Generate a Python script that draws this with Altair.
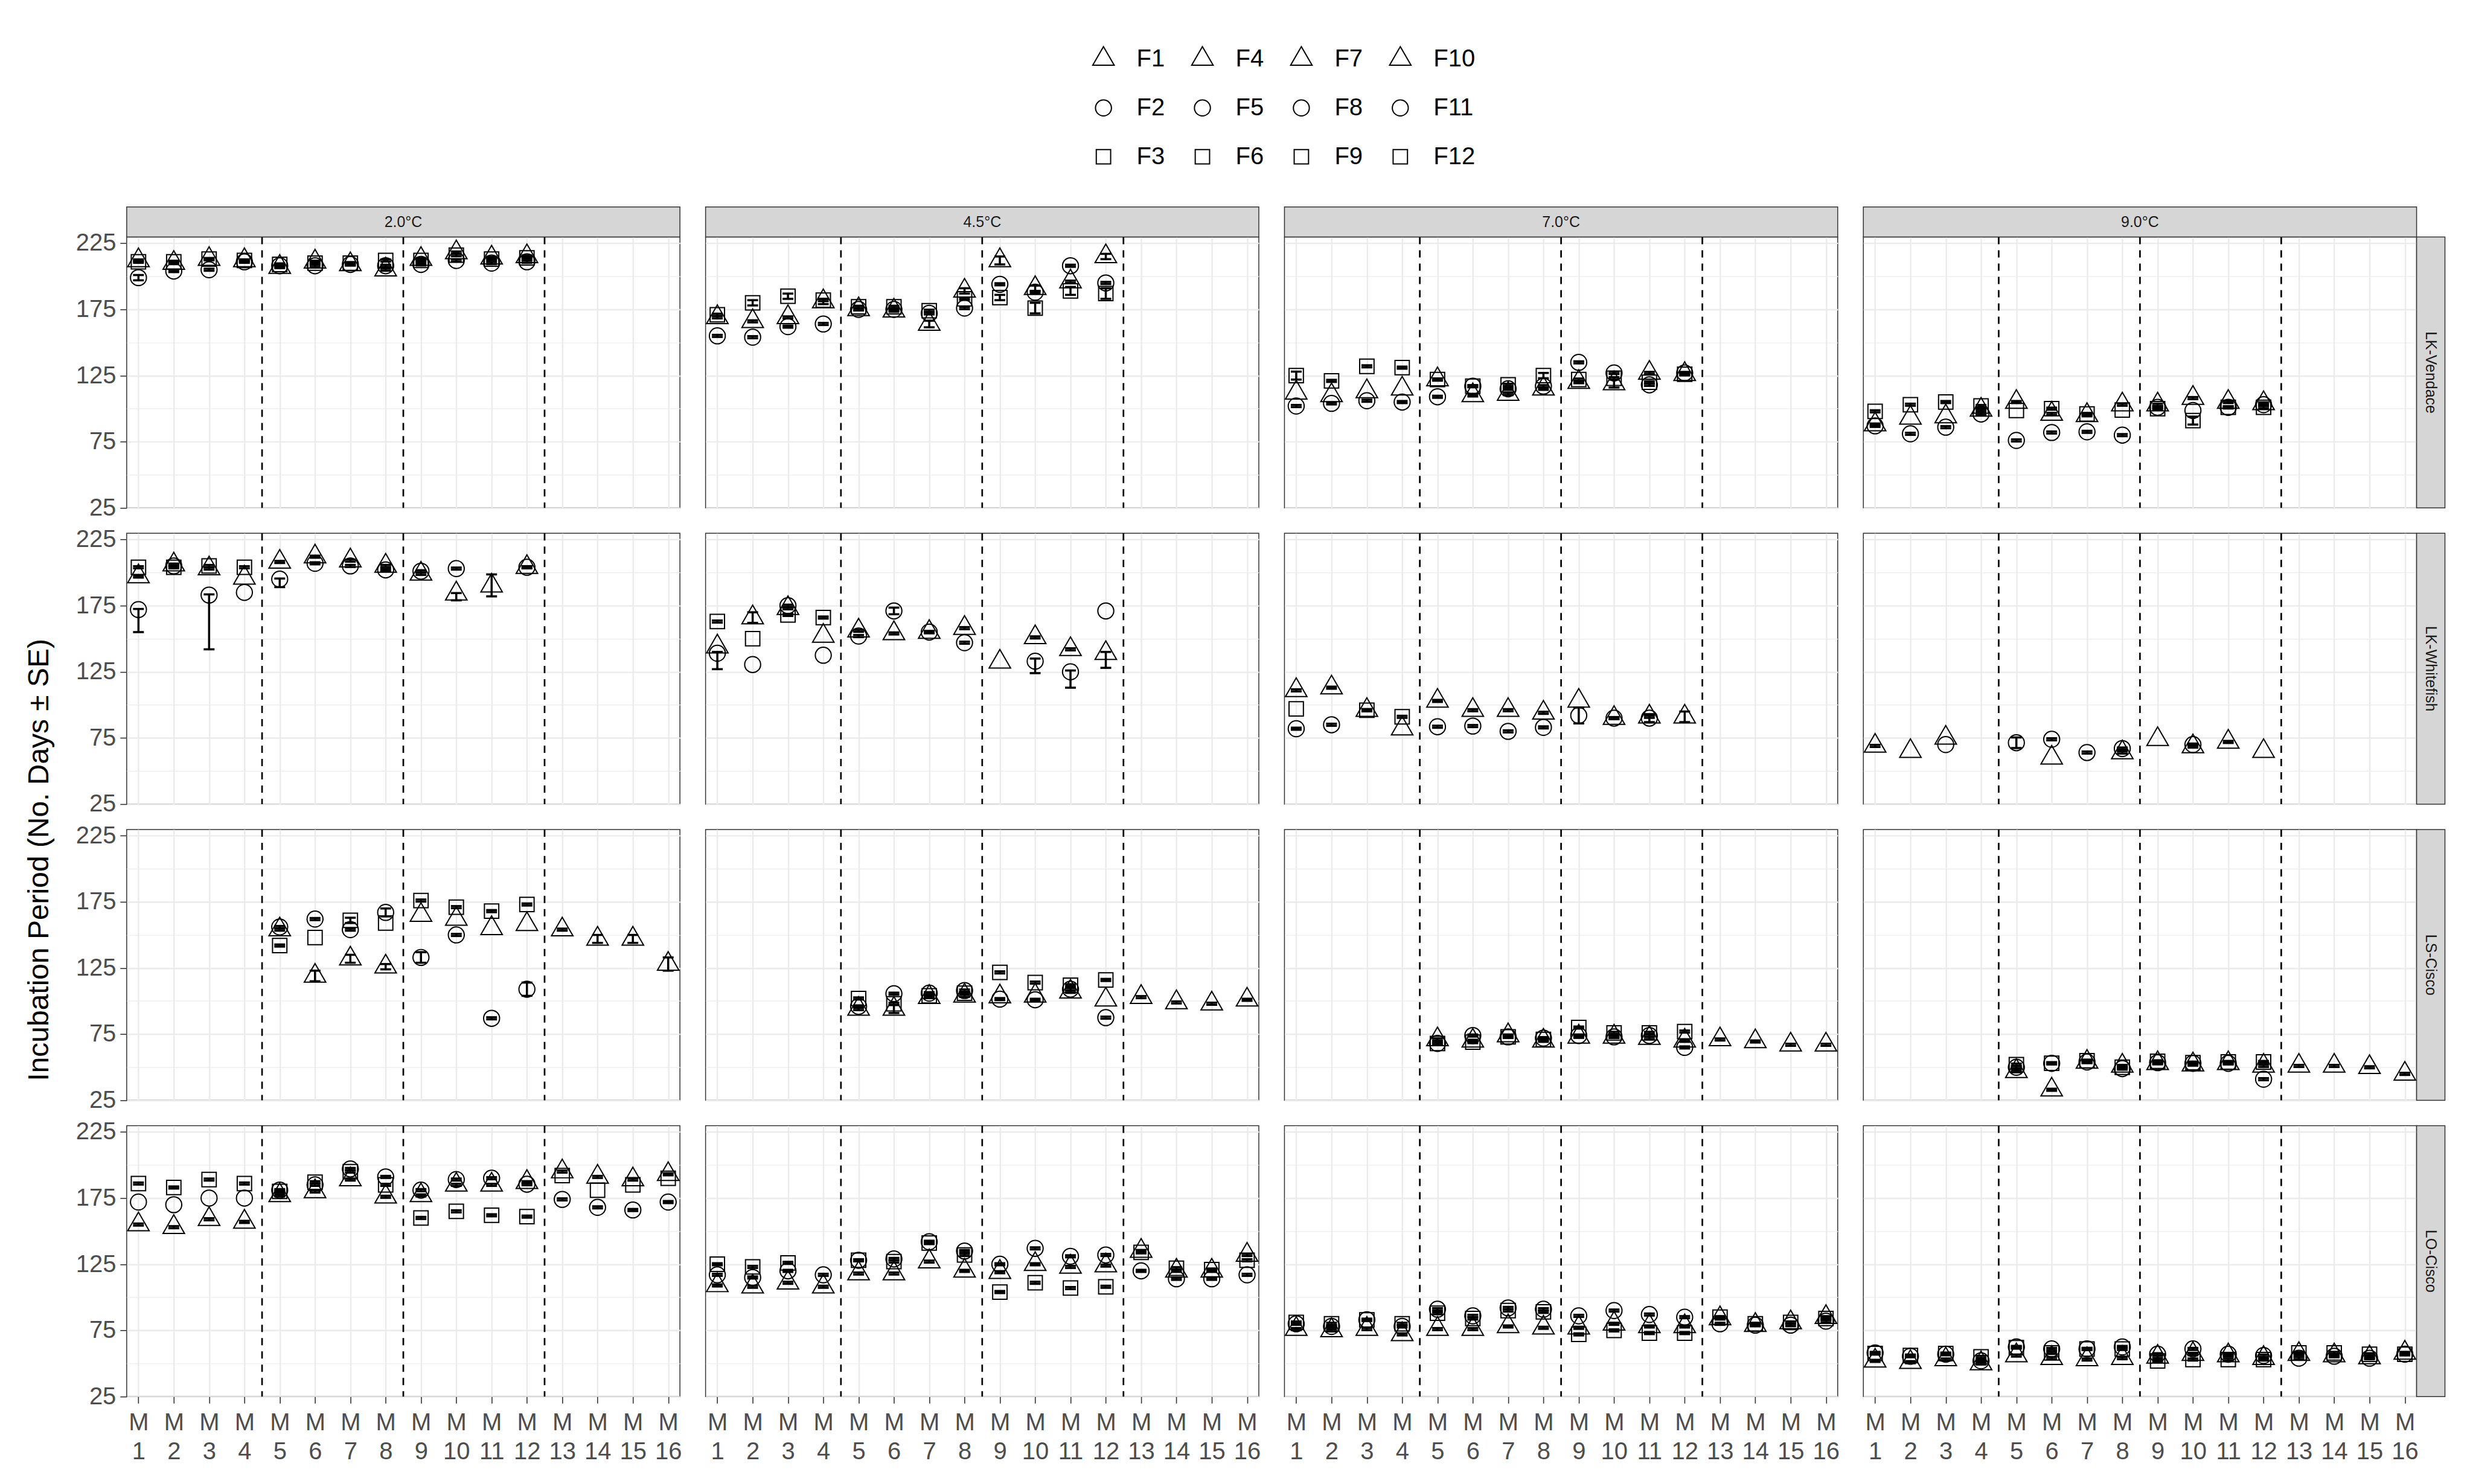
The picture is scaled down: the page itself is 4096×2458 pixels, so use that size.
import altair as alt
import pandas as pd

# ---------------- data ----------------
SPECIES = ["LK-Vendace", "LK-Whitefish", "LS-Cisco", "LO-Cisco"]
TEMPS = ["2.0°C", "4.5°C", "7.0°C", "9.0°C"]
MALES = list(range(1, 17))
DIVIDERS = [4.5, 8.5, 12.5]
Y_GRID = [25, 50, 75, 100, 125, 150, 175, 200, 225]
LEGEND_ORDER = ["F1", "F4", "F7", "F10", "F2", "F5", "F8", "F11", "F3", "F6", "F9", "F12"]
Y_TITLE = "Incubation Period (No. Days ± SE)"
DEFAULT_SE = 0.8

# mean incubation days: female -> values for the 4 males of its block
# (F1-F3: M1-M4, F4-F6: M5-M8, F7-F9: M9-M12, F10-F12: M13-M16)
VEN_20 = {"F1": [212, 210, 213, 212], "F2": [199, 204, 205, 211], "F3": [211, 211, 213, 212],
          "F4": [207, 211, 209, 205], "F5": [208, 208, 209, 208], "F6": [209, 210, 210, 212],
          "F7": [213, 218, 214, 215], "F8": [209, 212, 210, 211], "F9": [212, 216, 213, 214]}
VEN_45 = {"F1": [169, 166, 169, 181], "F2": [155, 154, 162, 164], "F3": [171, 180, 185, 182],
          "F4": [175, 174, 164, 189], "F5": [175, 175, 172, 176], "F6": [177, 177, 174, 183],
          "F7": [212, 191, 196, 215], "F8": [194, 188, 208, 195], "F9": [184, 176, 189, 187]}
VEN_70 = {"F1": [112, 110, 113, 115], "F2": [102, 104, 106, 105], "F3": [125, 121, 132, 131],
          "F4": [122, 110, 111, 115], "F5": [109, 117, 115, 117], "F6": [122, 117, 118, 125],
          "F7": [120, 119, 127, 126], "F8": [135, 127, 118, 127], "F9": [122, 123, 120, 126]}
VEN_90 = {"F1": [88, 93, 94, 99], "F2": [87, 81, 86, 96], "F3": [98, 103, 105, 102],
          "F4": [105, 96, 95, 103], "F5": [76, 82, 82.5, 80], "F6": [98.6, 100, 96, 99],
          "F7": [103, 108, 105, 104], "F8": [101, 98.6, 101, 103], "F9": [100, 91, 101, 101]}
WHI_20 = {"F1": [197, 206, 203, 196], "F2": [172, 205, 183, 185], "F3": [204, 204, 205, 204],
          "F4": [208, 212, 209, 205], "F5": [195, 207, 205, 202],
          "F7": [199, 184, 190, 204], "F8": [201, 203, None, 204]}
WHI_45 = {"F1": [144, 166, 173, 152], "F2": [139, 130.5, 175, 137.5], "F3": [163, 150, 168, 166],
          "F4": [156, 154, 155, 158], "F5": [152, 171, 155, 147],
          "F7": [132.5, 151, 142, 139], "F8": [None, 133, 125, 171]}
WHI_70 = {"F1": [111, 113, 96, 82], "F2": [82, 85, None, None], "F3": [97, None, 96, 91],
          "F4": [103, 96, 96, 94], "F5": [83.5, 84, 80, 83],
          "F7": [103, 90, 91, 91], "F8": [92, 90, 90, None]}
WHI_90 = {"F1": [69, 65, 75, None], "F2": [None, None, 70, None],
          "F4": [None, 60, None, 64], "F5": [71.4, 74, 64, 67],
          "F7": [74, 68.5, 72, 65], "F8": [None, 70, None, None]}
LSC_20 = {"F4": [154, 119, 132, 126], "F5": [156, 162, 154, 167], "F6": [142, 148, 161, 159],
          "F7": [165, 162, 155, 158], "F8": [133, 150, 87, 109], "F9": [176, 171, 168, 173],
          "F10": [154, 147, 147, 128]}
LSC_45 = {"F4": [94, 94, 103, 104], "F5": [96, 105.6, 106, 108], "F6": [102, 98, 104, 106],
          "F7": [103.4, 104, 107, 101], "F8": [101.5, 101, 109, 87.5], "F9": [121.7, 114, 112, 116],
          "F10": [103, 99, 98, 101]}
LSC_70 = {"F4": [71, 70, 74, 70], "F5": [68, 74, 73, 72], "F6": [68, 69, 73, 71],
          "F7": [73, 73, 72, 70], "F8": [74, 73, 74, 65], "F9": [80, 76, 76, 77],
          "F10": [71, 69.5, 67, 67]}
LSC_90 = {"F4": [47, 33, 54, 51], "F5": [50, 53, 54, 49], "F6": [52, 53, 55, 50],
          "F7": [53, 52, 53, 51], "F8": [53.5, 53, 53, 41], "F9": [54.5, 53.5, 54, 54],
          "F10": [51, 51, 50, 45]}
LOC_20 = {"F1": [155, 153, 159, 157], "F2": [172, 170, 175, 175], "F3": [186, 183, 189, 186],
          "F4": [177, 180, 189, 176], "F5": [181, 185, 197, 191], "F6": [180, 187, 195, 185],
          "F7": [177, 185, 185, 187], "F8": [181, 189, 190, 185.5], "F9": [160, 165, 162, 161],
          "F10": [195, 191, 189, 193], "F11": [174, 168, 166, 172], "F12": [192, 181, 185, 190]}
LOC_45 = {"F1": [109, 108, 111, 108], "F2": [117, 115, 120, 117], "F3": [125, 123, 126, None],
          "F4": [118, 118, 127, 120], "F5": [128, 129, 142, 135], "F6": [128, 127, 141, 132],
          "F7": [119, 125, 123, 124], "F8": [125, 137, 131, 132], "F9": [104, 111, 107, 108],
          "F10": [135, 120, 120, 132], "F11": [120, 114, 114, 117], "F12": [134, 122, 121, 128]}
LOC_70 = {"F1": [76, 75, 76, 72], "F2": [80, 78, 83, 78], "F3": [81, 80, 83, 80],
          "F4": [76, 76, 78, 77], "F5": [91, 86, 92, 91], "F6": [88, 84, 90, 89],
          "F7": [77, 80, 78, 78], "F8": [86, 90, 87, 85], "F9": [72, 75, 73, 73],
          "F10": [84, 79, 81, 85], "F11": [80, 79, 79, 82], "F12": [85, 80, 81, 84]}
LOC_90 = {"F1": [52, 51, 53, 50], "F2": [58, 55.5, 57, 52], "F3": [57.5, 56, 57.5, 55],
          "F4": [56, 54, 53, 54], "F5": [62.5, 61, 61, 62.5], "F6": [62, 58, 61, 61],
          "F7": [55, 57, 56, 54], "F8": [57, 61, 57, 56], "F9": [52, 53, 53, 53],
          "F10": [57, 56, 54.5, 58], "F11": [54, 55.5, 54, 57], "F12": [58, 58, 57, 57]}

# SE that differ from DEFAULT_SE: (female, male) -> se, (below, above) or None (no bar)
VEN_20_SE = {("F2", 1): 2}
VEN_45_SE = {("F4", 7): 2.5, ("F4", 8): 2, ("F7", 9): 3, ("F7", 10): 2, ("F7", 12): 2,
             ("F9", 9): 2, ("F9", 10): 4, ("F9", 11): 3, ("F9", 12): 4,
             ("F3", 2): 2, ("F3", 3): 2, ("F1", 4): 2}
VEN_70_SE = {("F3", 1): 3, ("F6", 8): 2, ("F7", 10): 3, ("F1", 1): None, ("F1", 2): None,
             ("F1", 3): None, ("F1", 4): None}
VEN_90_SE = {("F6", 5): None, ("F6", 8): None, ("F9", 10): 3, ("F1", 2): None,
             ("F1", 3): None, ("F8", 10): None}
WHI_20_SE = {("F2", 1): (17, 0.5), ("F2", 3): (41, 0.5), ("F2", 4): None, ("F1", 4): None,
             ("F5", 5): (6, 0.5), ("F7", 10): (5, 0.5), ("F7", 11): (8, 8.6)}
WHI_45_SE = {("F1", 1): None, ("F1", 2): 4, ("F2", 1): (12, 1), ("F2", 2): None, ("F3", 2): None,
             ("F2", 4): None, ("F1", 4): None, ("F5", 6): 2.5, ("F7", 9): None,
             ("F7", 12): (11, 1), ("F8", 10): (9, 2), ("F8", 11): (12, 1), ("F8", 12): None}
WHI_70_SE = {("F1", 4): None, ("F3", 1): None, ("F7", 9): None, ("F7", 12): 4,
             ("F8", 9): 6, ("F8", 11): 3}
WHI_90_SE = {("F1", 2): None, ("F1", 3): None, ("F2", 3): None, ("F4", 6): None,
             ("F5", 5): 4, ("F7", 9): None, ("F7", 12): None}
LSC_20_SE = {("F4", 6): 4, ("F4", 7): 3, ("F4", 8): 2, ("F5", 8): 3, ("F6", 6): None,
             ("F6", 8): None, ("F7", 9): None, ("F7", 10): None, ("F7", 11): None,
             ("F7", 12): None, ("F8", 9): 4, ("F8", 12): 5, ("F10", 14): 3, ("F10", 15): 3,
             ("F10", 16): 5, ("F6", 7): 2}
LSC_45_SE = {("F4", 6): 3, ("F7", 9): None, ("F7", 10): None, ("F7", 12): None}
LOC_20_SE = {("F2", 1): None, ("F2", 2): None, ("F2", 3): None, ("F2", 4): None,
             ("F12", 13): None, ("F12", 14): None, ("F12", 15): None, ("F12", 16): None}

MEANS = {
    ("LK-Vendace", "2.0°C"): (VEN_20, VEN_20_SE), ("LK-Vendace", "4.5°C"): (VEN_45, VEN_45_SE),
    ("LK-Vendace", "7.0°C"): (VEN_70, VEN_70_SE), ("LK-Vendace", "9.0°C"): (VEN_90, VEN_90_SE),
    ("LK-Whitefish", "2.0°C"): (WHI_20, WHI_20_SE), ("LK-Whitefish", "4.5°C"): (WHI_45, WHI_45_SE),
    ("LK-Whitefish", "7.0°C"): (WHI_70, WHI_70_SE), ("LK-Whitefish", "9.0°C"): (WHI_90, WHI_90_SE),
    ("LS-Cisco", "2.0°C"): (LSC_20, LSC_20_SE), ("LS-Cisco", "4.5°C"): (LSC_45, LSC_45_SE),
    ("LS-Cisco", "7.0°C"): (LSC_70, {}), ("LS-Cisco", "9.0°C"): (LSC_90, {}),
    ("LO-Cisco", "2.0°C"): (LOC_20, LOC_20_SE), ("LO-Cisco", "4.5°C"): (LOC_45, {}),
    ("LO-Cisco", "7.0°C"): (LOC_70, {}), ("LO-Cisco", "9.0°C"): (LOC_90, {}),
}

rows = []
for (sp, tp), (means, overrides) in MEANS.items():
    for f, vals in means.items():
        block = (int(f[1:]) - 1) // 3
        for j, v in enumerate(vals):
            if v is None:
                continue
            m = 4 * block + j + 1
            se = overrides.get((f, m), DEFAULT_SE)
            if se is None:
                lo = hi = None
            elif isinstance(se, tuple):
                lo, hi = v - se[0], v + se[1]
            else:
                lo, hi = v - se, v + se
            rows.append(dict(species=sp, temp=tp, female=f, male=m, mean=v, lo=lo, hi=hi))
df = pd.DataFrame(rows)

# ---------------- styling ----------------
W, H = 917, 449
FONT = "Liberation Sans"
GRID = "#EBEBEB"
MAJOR = "datum.value % 50 === 25"
TRI = "M0,-1.555L1.347,0.778L-1.347,0.778Z"
SQU = "M-0.9,-0.9L0.9,-0.9L0.9,0.9L-0.9,0.9Z"
SHAPES = [TRI] * 4 + ["circle"] * 4 + [SQU] * 4

shape_scale = alt.Scale(domain=LEGEND_ORDER, range=SHAPES)
legend = alt.Legend(title=None, orient="none", legendX=1599, legendY=-315, columns=4,
                    direction="horizontal", labelFont=FONT, labelFontSize=40, labelColor="black",
                    symbolSize=700, symbolStrokeWidth=2, symbolStrokeColor="black",
                    symbolOpacity=1, labelOffset=35, rowPadding=41, columnPadding=40,
                    padding=0, gridAlign="each")

xs = alt.Scale(domain=[0.667, 16.333], nice=False, zero=False)
ys = alt.Scale(domain=[25, 229.7], nice=False, zero=False)


def make_panel(r, c):
    sp, tp = SPECIES[r], TEMPS[c]
    d = df[(df.species == sp) & (df.temp == tp)]
    left, bottom = c == 0, r == 3
    xaxis = alt.Axis(values=MALES, title=None, grid=True, gridColor=GRID, gridWidth=2.4,
                     domain=False, labels=bottom, ticks=bottom, tickSize=11, tickWidth=1.6,
                     tickColor="#333333", labelExpr="['M', datum.label]", labelFont=FONT,
                     labelFontSize=40, labelColor="#4D4D4D", labelLineHeight=48,
                     labelPadding=12, labelFlush=False, labelOverlap=False)
    ykw = dict(values=Y_GRID, grid=True, gridColor=GRID,
               gridWidth={"condition": {"test": MAJOR, "value": 2.4}, "value": 1.2},
               domain=False, labels=left, ticks=left, tickSize=11, tickWidth=1.6,
               tickColor="#333333",
               tickOpacity={"condition": {"test": MAJOR, "value": 1}, "value": 0},
               labelExpr=f"{MAJOR} ? datum.label : ''", labelFont=FONT, labelFontSize=40,
               labelColor="#4D4D4D", labelPadding=7, labelOverlap=False)
    if r == 0 and c == 0:
        ykw.update(title=Y_TITLE, titleX=-144, titleY=1032, titleFont=FONT, titleFontSize=48,
                   titleColor="black", titleFontWeight="normal", titleAngle=270,
                   titleAlign="center", titleBaseline="middle")
    else:
        ykw.update(title=None)
    yaxis = alt.Axis(**ykw)

    def X(field):
        return alt.X(field, type="quantitative", scale=xs, axis=xaxis)

    def Y(field):
        return alt.Y(field, type="quantitative", scale=ys, axis=yaxis)

    div = alt.Chart(pd.DataFrame({"pos": DIVIDERS})).mark_rule(
        color="black", strokeWidth=2.7, strokeDash=[12, 10]).encode(x=X("pos"))
    eb = alt.Chart(d).transform_filter("datum.lo != null")
    stem = eb.mark_rule(color="black", strokeWidth=3.5).encode(
        x=X("male"), y=Y("lo"), y2="hi:Q")
    cap_lo = eb.mark_tick(orient="horizontal", size=18, thickness=3.5, color="black",
                          opacity=1).encode(x=X("male"), y=Y("lo"))
    cap_hi = eb.mark_tick(orient="horizontal", size=18, thickness=3.5, color="black",
                          opacity=1).encode(x=X("male"), y=Y("hi"))
    pts = alt.Chart(d).mark_point(filled=False, size=700, strokeWidth=2, color="black",
                                  opacity=1).encode(
        x=X("male"), y=Y("mean"),
        shape=alt.Shape("female:N", scale=shape_scale, legend=legend))
    layers = [div, stem, cap_lo, cap_hi, pts]
    if r == 0:
        lab = pd.DataFrame({"label": [tp]})
        layers.append(alt.Chart(lab).mark_rect(fill="#D6D6D6", stroke="#333333",
                                               strokeWidth=1.5).encode(
            x=alt.value(0), x2=alt.value(W), y=alt.value(-50), y2=alt.value(0)))
        layers.append(alt.Chart(lab).mark_text(font=FONT, fontSize=25, color="#1A1A1A").encode(
            x=alt.value(W / 2), y=alt.value(-25), text="label:N"))
    if c == 3:
        lab = pd.DataFrame({"label": [sp]})
        layers.append(alt.Chart(lab).mark_rect(fill="#D6D6D6", stroke="#333333",
                                               strokeWidth=1.5).encode(
            x=alt.value(W), x2=alt.value(W + 47), y=alt.value(0), y2=alt.value(H)))
        layers.append(alt.Chart(lab).mark_text(font=FONT, fontSize=25, color="#1A1A1A",
                                               angle=90).encode(
            x=alt.value(W + 23.5), y=alt.value(H / 2), text="label:N"))
    return alt.layer(*layers).properties(width=W, height=H)


panels = [make_panel(r, c) for r in range(4) for c in range(4)]

chart = alt.concat(
    *panels, columns=4, spacing=alt.RowColnumber(row=42, column=42.5), bounds="flush"
).resolve_scale(
    x="independent", y="independent", shape="shared"
).properties(
    padding={"left": 41, "top": 77, "right": 45, "bottom": 30}, background="white"
).configure_view(stroke="#333333", strokeWidth=1.5)

chart.save("out.html", embed_options={"renderer": "svg", "actions": False})
